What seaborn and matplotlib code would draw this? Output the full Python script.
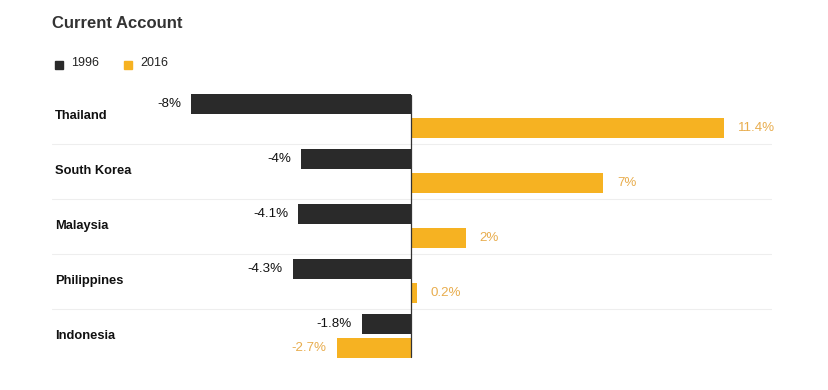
import pandas as pd
import seaborn as sns
import matplotlib.pyplot as plt
from matplotlib.patches import Rectangle

countries = ["Thailand", "South Korea", "Malaysia", "Philippines", "Indonesia"]
years = ["1996", "2016"]
values_1996 = [-8.0, -4.0, -4.1, -4.3, -1.8]
values_2016 = [11.4, 7.0, 2.0, 0.2, -2.7]
labels_1996 = ["-8%", "-4%", "-4.1%", "-4.3%", "-1.8%"]
labels_2016 = ["11.4%", "7%", "2%", "0.2%", "-2.7%"]

df = pd.DataFrame({
    "country": countries * 2,
    "year": [years[0]] * 5 + [years[1]] * 5,
    "value": values_1996 + values_2016,
})

black = "#2a2a2a"
gold = "#f6b222"
gold_text = "#e8ad4e"

sns.set_style("white")
plt.rcParams["font.family"] = ["Liberation Sans", "DejaVu Sans"]

fig = plt.figure(figsize=(8.29, 3.9), dpi=100)
ax = fig.add_axes([52 / 829, 26.5 / 390, 720 / 829, 275 / 390])

sns.barplot(data=df, x="value", y="country", hue="year", orient="h",
            palette=[black, gold], width=0.88, gap=0.2, legend=False,
            saturation=1, linewidth=0, ax=ax)

ax.set_xlim(-13.08, 13.15)
ax.set_ylim(4.5, -0.5)
ax.axis("off")

# separators between groups
for i in range(len(countries) - 1):
    ax.axhline(i + 0.5, color="#eeeeee", lw=0.8, zorder=0)

# zero line
ax.axvline(0, ymin=0.024, ymax=0.976, color="#333333", lw=0.9, zorder=5)

# country labels
for i, c in enumerate(countries):
    ax.text(0.004, i, c, transform=ax.get_yaxis_transform(), ha="left",
            va="center", fontsize=9.3, fontweight="bold", color="#111111")

# value labels
for bars, labs, col in [(ax.containers[0], labels_1996, "#111111"),
                        (ax.containers[1], labels_2016, gold_text)]:
    for bar, lab in zip(bars, labs):
        w = bar.get_width()
        y = bar.get_y() + bar.get_height() / 2
        x = bar.get_x() + w
        if w < 0:
            ax.annotate(lab, (x, y), xytext=(-7.5, 0), textcoords="offset points",
                        ha="right", va="center", fontsize=9.6, color=col)
        else:
            ax.annotate(lab, (x, y), xytext=(10, 0), textcoords="offset points",
                        ha="left", va="center", fontsize=9.6, color=col)

fig.text(52 / 829, 1 - 23 / 390, "Current Account", ha="left", va="center",
         fontsize=12, fontweight="bold", color="#333333")

# legend
for x0, col, txt in [(55, black, years[0]), (124, gold, years[1])]:
    fig.patches.append(Rectangle((x0 / 829, 1 - 69 / 390), 8 / 829, 8 / 390,
                                 transform=fig.transFigure, color=col))
    fig.text((x0 + 16) / 829, 1 - 63 / 390, txt, ha="left", va="center",
             fontsize=9, color="#222222")

fig.savefig("out.png", dpi=100, facecolor="white")
